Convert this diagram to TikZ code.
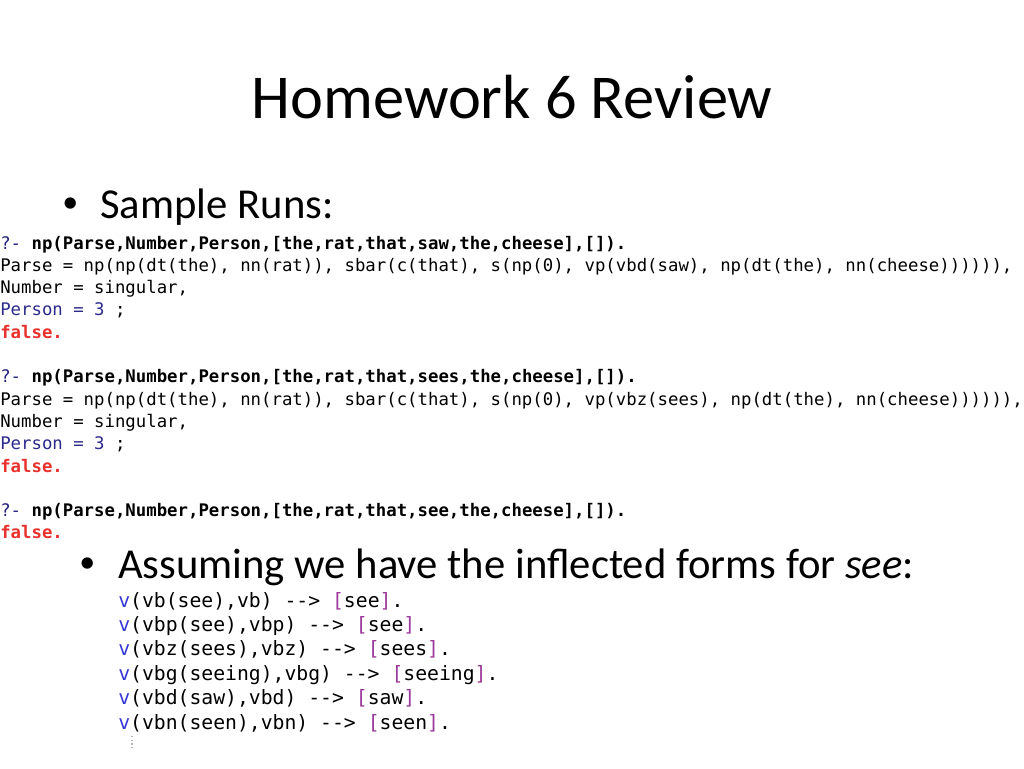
\documentclass[tikz,border=0pt]{standalone}
\usepackage{xcolor}
\usepackage{fontspec}
\usepackage{tikz}
\setmainfont{Carlito}
\setmonofont{DejaVu Sans Mono}
\definecolor{qnavy}{HTML}{22227E}
\definecolor{pnavy}{HTML}{2A2A8C}
\definecolor{fred}{HTML}{E8302C}
\definecolor{vblue}{HTML}{3535D8}
\definecolor{lpurple}{HTML}{9A3A9A}

\tikzset{
  line/.style={anchor=base west, inner sep=0pt, font=\fontsize{13pt}{15pt}\ttfamily},
  rule/.style={anchor=base west, inner sep=0pt, font=\fontsize{14.8pt}{17pt}\ttfamily},
  bul/.style={anchor=base west, inner sep=0pt, font=\fontsize{32pt}{38pt}\selectfont},
  dot/.style={anchor=base west, inner sep=0pt, font=\fontsize{24pt}{28pt}\selectfont}
}
\newcommand{\qry}[1]{\textcolor{qnavy}{?-} \textbf{#1}}
\newcommand{\fls}{\textcolor{fred}{\textbf{false.}}}
\newcommand{\vform}[2]{\textcolor{vblue}{v}#1 -{}-> \textcolor{lpurple}{[}#2\textcolor{lpurple}{]}.}

\begin{document}
\begin{tikzpicture}[x=0.75pt, y=-0.75pt]
    \useasboundingbox (0,0) rectangle (1024,768);
    \node[anchor=base, inner sep=0pt, font=\fontsize{46.8pt}{54pt}\selectfont] (T) at (512,118) {Homework 6 Review};
    \node[dot] (D1) at (62,212) {\textbullet};
    \node[bul] (S) at (100,218) {Sample Runs:};
    % saw
    \node[line] (A1) at (0,249) {\qry{np(Parse,Number,Person,[the,rat,that,saw,the,cheese],[]).}};
    \node[line] (A2) at (0,271.3) {Parse = np(np(dt(the), nn(rat)), sbar(c(that), s(np(0), vp(vbd(saw), np(dt(the), nn(cheese)))))),};
    \node[line] (A3) at (0,293.6) {Number = singular,};
    \node[line] (A4) at (0,315.9) {\textcolor{pnavy}{Person = 3} ;};
    \node[line] (A5) at (0,338.2) {\fls};
    % sees
    \node[line] (B1) at (0,382.8) {\qry{np(Parse,Number,Person,[the,rat,that,sees,the,cheese],[]).}};
    \node[line] (B2) at (0,405.1) {Parse = np(np(dt(the), nn(rat)), sbar(c(that), s(np(0), vp(vbz(sees), np(dt(the), nn(cheese)))))),};
    \node[line] (B3) at (0,427.4) {Number = singular,};
    \node[line] (B4) at (0,449.7) {\textcolor{pnavy}{Person = 3} ;};
    \node[line] (B5) at (0,472) {\fls};
    % see
    \node[line] (C1) at (0,516.6) {\qry{np(Parse,Number,Person,[the,rat,that,see,the,cheese],[]).}};
    \node[line] (C2) at (0,538.9) {\fls};
    \node[dot] (D2) at (79,572) {\textbullet};
    \node[bul] (U) at (118,578) {Assuming we have the inflected forms for \textit{see}:};
    % rules
    \node[rule] (R1) at (118,607) {\vform{(vb(see),vb)}{see}};
    \node[rule] (R2) at (118,631.4) {\vform{(vbp(see),vbp)}{see}};
    \node[rule] (R3) at (118,655.8) {\vform{(vbz(sees),vbz)}{sees}};
    \node[rule] (R4) at (118,680.2) {\vform{(vbg(seeing),vbg)}{seeing}};
    \node[rule] (R5) at (118,704.6) {\vform{(vbd(saw),vbd)}{saw}};
    \node[rule] (R6) at (118,729) {\vform{(vbn(seen),vbn)}{seen}};
    \draw[gray!60, dotted, line width=0.8pt] (132,736) -- (132,748);
\end{tikzpicture}
\end{document}
